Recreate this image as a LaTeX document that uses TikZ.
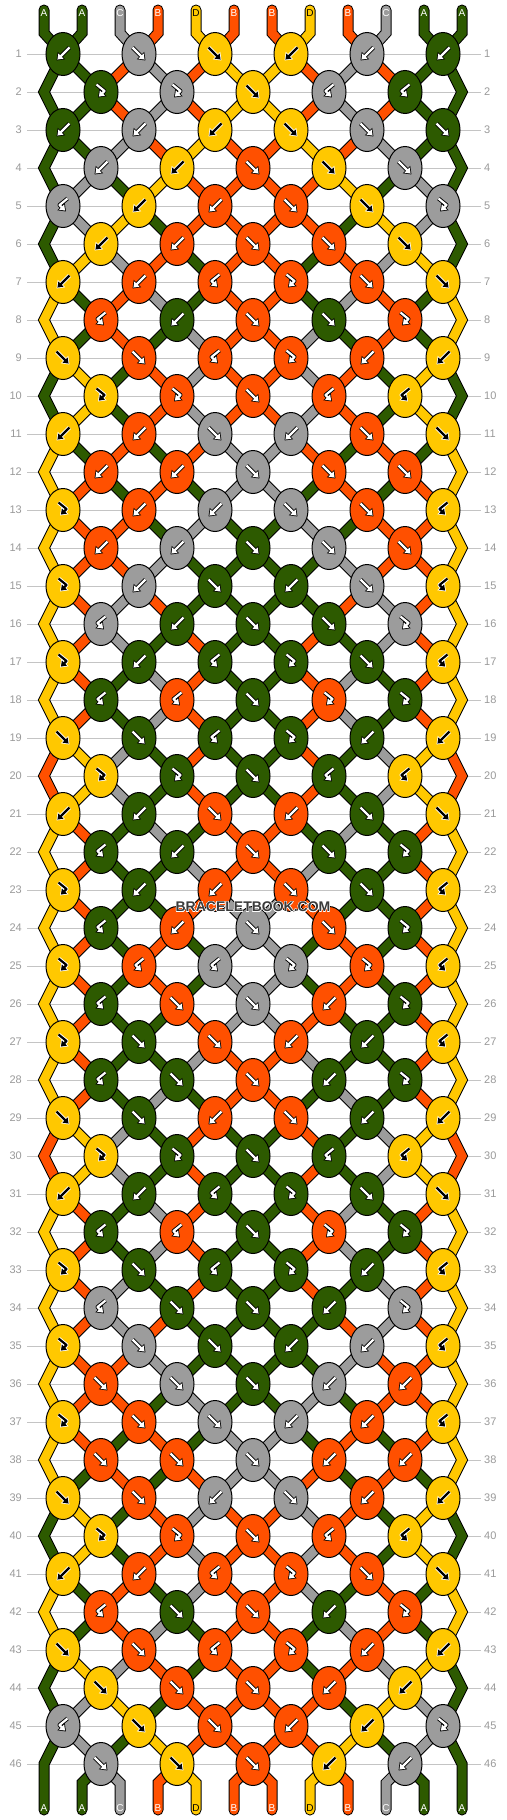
\documentclass[tikz,border=0pt]{standalone}
\usepackage{fontspec}
\setmainfont{Liberation Sans}
\usepackage[copies]{contour}
\usetikzlibrary{shapes.geometric,arrows.meta}

\definecolor{colG}{HTML}{2D5A00}
\definecolor{colS}{HTML}{9C9C9C}
\definecolor{colO}{HTML}{FF5000}
\definecolor{colY}{HTML}{FFC800}
\definecolor{rowgray}{HTML}{C4C4C4}
\definecolor{numgray}{HTML}{9A9A9A}
\definecolor{markgray}{HTML}{3A3A3A}

\tikzset{
  strline/.style={line width=9pt, draw=#1, line cap=round,
    preaction={draw=black, line width=11pt, line cap=round}},
  knot/.style={ellipse, draw=black, line width=1pt, inner sep=0pt,
    minimum width=34pt, minimum height=43pt},
  rim/.style={line width=4pt, draw=#1, line join=round, -{Triangle[length=7pt,width=10pt]}},
  pen/.style={line width=2.2pt, draw=#1, line join=round, shorten >=1.3pt,
    -{Triangle[length=5pt,width=7pt]}},
  rownum/.style={text=numgray, font=\fontsize{11}{13}\selectfont, inner ysep=0pt},
  rowline/.style={draw=rowgray, line width=1pt},
  strlabel/.style={font=\fontsize{10}{12}\selectfont, inner sep=0pt},
}

% arrow colours on each knot colour
\def\penG{white}\def\penS{white}\def\penO{white}\def\penY{black}
\def\rimG{black}\def\rimS{black}\def\rimO{black}\def\rimY{white}

% knot kinds: do the strings swap, does the knot take the left colour
\def\swapf{1}\def\swapb{1}\def\swapfb{0}\def\swapbf{0}
\def\leftf{1}\def\leftb{0}\def\leftfb{1}\def\leftbf{0}

% arrow glyphs
\def\gpathf{(-6.5,-6.5) -- (6.5,6.5)}
\def\gpathb{(6.5,-6.5) -- (-6.5,6.5)}
\def\gpathfb{(-4.5,-7.5) -- (3.5,-1) -- (-3,5.5)}
\def\gpathbf{(4.5,-7.5) -- (-3.5,-1) -- (3,5.5)}

\newcommand\addpt[2]{%
  \expandafter\xdef\csname path#1\endcsname{\csname path#1\endcsname\space-- (#2,\yy)}}

% #1 left position, #2 x, #3 kind, #4 name
\newcommand\tieknot[4]{%
  \edef\lstr{\csname pos#1\endcsname}%
  \edef\rstr{\csname pos\the\numexpr#1+1\relax\endcsname}%
  \addpt{\lstr}{#2}%
  \addpt{\rstr}{#2}%
  \ifnum\csname left#3\endcsname=1
    \edef\kcol{\csname scol\lstr\endcsname}%
  \else
    \edef\kcol{\csname scol\rstr\endcsname}%
  \fi
  \ifnum\csname swap#3\endcsname=1
    \expandafter\xdef\csname pos#1\endcsname{\rstr}%
    \expandafter\xdef\csname pos\the\numexpr#1+1\relax\endcsname{\lstr}%
  \fi
  \xdef\knotlist{\knotlist\drawknot{#4}{#2}{\yy}{\kcol}{#3}}%
}

\protected\def\drawknot#1#2#3#4#5{%
  \node[knot, fill=col#4] (#1) at (#2,#3) {};
  \expandafter\let\expandafter\gp\csname gpath#5\endcsname
  \edef\rimc{\csname rim#4\endcsname}\edef\penc{\csname pen#4\endcsname}%
  \begin{scope}[shift={(#1.center)}]
    \draw[rim=\rimc] \gp;
    \draw[pen=\penc] \gp;
  \end{scope}}

\begin{document}
\begin{tikzpicture}[x=1pt,y=-1pt]
\useasboundingbox (0,0) rectangle (506,1820);
\fill[white] (0,0) rectangle (506,1820);

% row guides
\foreach \rr in {1,...,46}{
  \pgfmathtruncatemacro\yy{54+38*(\rr-1)}
  \node[rownum, anchor=east, inner xsep=5pt] (nl\rr) at (27,\yy) {\rr};
  \node[rownum, anchor=west, inner xsep=3pt] (nr\rr) at (481,\yy) {\rr};
  \draw[rowline] (nl\rr) -- (nr\rr);
}

% strings A A C B D B B D B C A A
\foreach \scl/\snm [count=\idx from 0] in {G/A,G/A,S/C,O/B,Y/D,O/B,O/B,Y/D,O/B,S/C,G/A,G/A}{
  \pgfmathtruncatemacro\xx{44+38*\idx}
  \expandafter\xdef\csname scol\idx\endcsname{\scl}
  \expandafter\xdef\csname sname\idx\endcsname{\snm}
  \expandafter\xdef\csname pos\idx\endcsname{\idx}
  \expandafter\xdef\csname path\idx\endcsname{(\xx,10) -- (\xx,33)}
}

% knots, row by row
\gdef\knotlist{}
\foreach \kinds [count=\rr] in {
  {b,f,f,b,b,b},{fb,fb,f,bf,bf},{b,b,b,f,f,f},{b,b,f,f,f},
  {bf,b,b,f,f,fb},{b,b,f,f,f},{b,b,bf,fb,f,f},{bf,b,f,f,fb},
  {f,f,bf,fb,b,b},{fb,fb,f,bf,bf},{b,b,f,b,f,f},{b,b,f,f,f},
  {fb,b,b,f,f,bf},{b,b,f,f,f},{fb,b,f,b,f,bf},{bf,b,f,f,fb},
  {fb,b,bf,fb,f,bf},{bf,bf,f,fb,fb},{f,f,bf,fb,b,b},{fb,fb,f,bf,bf},
  {b,b,f,b,f,f},{bf,b,f,f,fb},{fb,b,b,f,f,bf},{bf,b,f,f,fb},
  {fb,bf,bf,fb,fb,bf},{bf,f,f,b,fb},{fb,f,f,b,b,bf},{bf,f,f,b,fb},
  {f,f,b,f,b,b},{fb,fb,f,bf,bf},{b,b,bf,fb,f,f},{bf,bf,f,fb,fb},
  {fb,f,bf,fb,b,bf},{bf,f,f,b,fb},{fb,f,f,b,b,bf},{f,f,f,b,b},
  {fb,f,f,b,b,bf},{f,f,f,b,b},{f,f,b,f,b,b},{fb,fb,f,bf,bf},
  {b,b,bf,fb,f,f},{bf,f,f,b,fb},{f,f,bf,fb,b,b},{f,f,f,b,b},
  {bf,f,f,b,b,fb},{f,f,f,b,b}}{
  \xdef\yy{\the\numexpr54+38*(\rr-1)\relax}
  \ifodd\rr
    \foreach \kt [count=\jj from 0] in \kinds
      {\tieknot{\the\numexpr2*\jj\relax}{\the\numexpr63+76*\jj\relax}{\kt}{k\rr-\jj}}
  \else
    \addpt{\csname pos0\endcsname}{44}\addpt{\csname pos11\endcsname}{462}
    \foreach \kt [count=\jj from 0] in \kinds
      {\tieknot{\the\numexpr2*\jj+1\relax}{\the\numexpr101+76*\jj\relax}{\kt}{k\rr-\jj}}
  \fi
}

% loose ends at the bottom
\foreach \p in {0,...,11}{
  \pgfmathtruncatemacro\xx{44+38*\p}
  \edef\sid{\csname pos\p\endcsname}
  \expandafter\xdef\csname path\sid\endcsname{\csname path\sid\endcsname\space-- (\xx,1783) -- (\xx,1810)}
}

\foreach \sid in {0,...,11}{
  \edef\tmp{\noexpand\draw[strline=col\csname scol\sid\endcsname] \csname path\sid\endcsname;}
  \tmp
}

\knotlist

% string letters
\foreach \sid in {0,...,11}{
  \pgfmathtruncatemacro\xx{44+38*\sid}
  \node[strlabel, text=\csname pen\csname scol\sid\endcsname\endcsname] (top\sid) at (\xx,13) {\csname sname\sid\endcsname};
}
\foreach \p in {0,...,11}{
  \pgfmathtruncatemacro\xx{44+38*\p}
  \edef\sid{\csname pos\p\endcsname}
  \node[strlabel, text=\csname pen\csname scol\sid\endcsname\endcsname] (bot\p) at (\xx,1808) {\csname sname\sid\endcsname};
}

\node[font=\bfseries\fontsize{14}{16}\selectfont, text=markgray] (mark) at (253,907)
  {\contour{white}{BRACELETBOOK.COM}};
\end{tikzpicture}
\end{document}
